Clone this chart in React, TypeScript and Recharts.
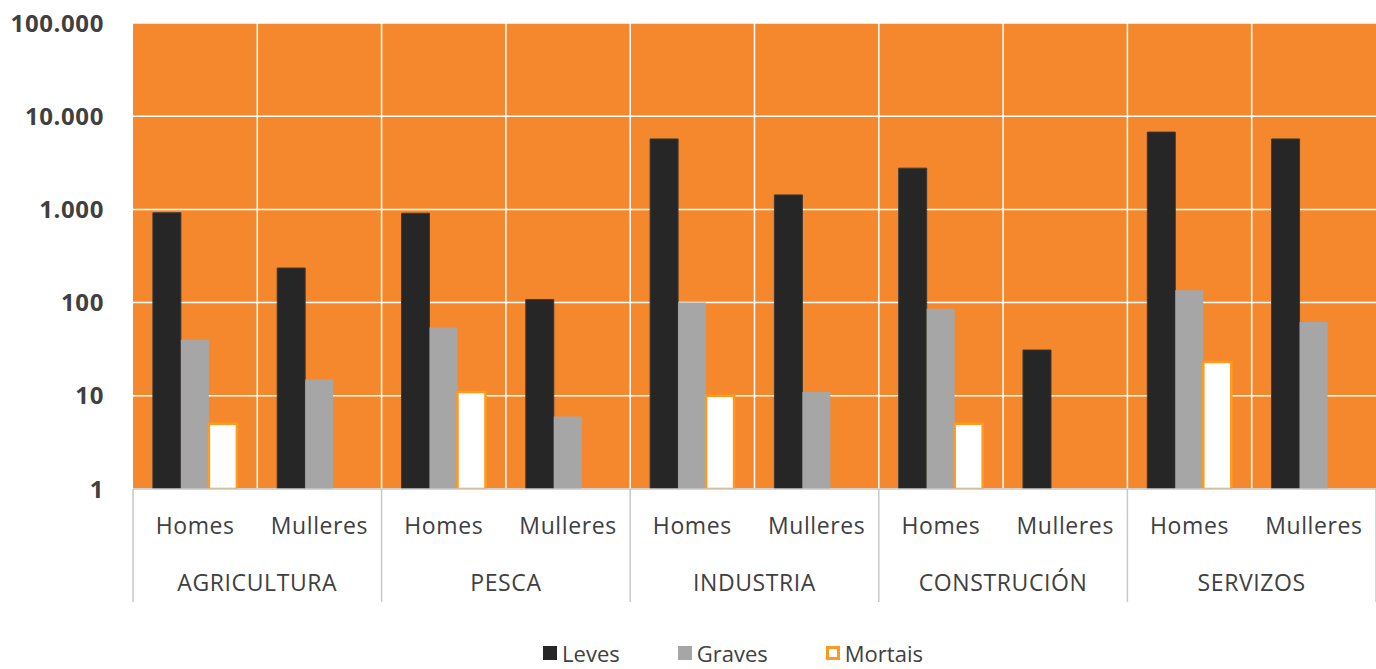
import React from 'react';
import { BarChart, Bar, XAxis, YAxis, CartesianGrid, Legend } from 'recharts';

const groups = ['AGRICULTURA', 'PESCA', 'INDUSTRIA', 'CONSTRUCIÓN', 'SERVIZOS'];
const sexes = ['Homes', 'Mulleres'];
const leves = [920, 235, 910, 108, 5700, 1430, 2770, 31, 6750, 5700];
const graves = [40, 15, 54, 6, 100, 11, 86, null, 136, 62];
const mortais = [5, null, 11, null, 10, null, 5, null, 23, null];
const yTicks = [1, 10, 100, 1000, 10000, 100000];

const data = groups.flatMap((g, gi) =>
  sexes.map((s, si) => {
    const i = gi * 2 + si;
    return { group: g, sex: s, leves: leves[i], graves: graves[i], mortais: mortais[i] };
  })
);

const W = 1376;
const H = 669;
const LEFT = 133;
const TOP = 23;
const X_AXIS_H = 140;
const LEGEND_H = 40;
const BAND = (W - LEFT) / data.length;

const ORANGE = '#F5882C';
const FONT = '"Open Sans", "Noto Sans", sans-serif';
const TEXT = '#404040';

const TwoLevelTick = (props: any) => {
  const { x, y, payload, index } = props;
  const top = y - 8;
  const idx = payload.index ?? index;
  const row = data[idx];
  return (
    <g>
      <text x={x} y={top + 45} textAnchor="middle" fill={TEXT} fontSize={23} letterSpacing={0.6} fontFamily={FONT}>
        {payload.value}
      </text>
      {row && row.sex === 'Homes' && (
        <>
          <text x={x + BAND / 2} y={top + 102} textAnchor="middle" fill={TEXT} fontSize={23} letterSpacing={0.6} fontFamily={FONT}>
            {row.group}
          </text>
          <line x1={x - BAND / 2} x2={x - BAND / 2} y1={top} y2={top + 113} stroke="#C8C8C8" strokeWidth={1.5} />
        </>
      )}
      {idx === data.length - 1 && (
        <line x1={x + BAND / 2} x2={x + BAND / 2} y1={top} y2={top + 113} stroke="#C8C8C8" strokeWidth={1.5} />
      )}
    </g>
  );
};

const LegendContent = () => {
  const items = [
    { label: 'Leves', fill: '#262626', stroke: 'none' },
    { label: 'Graves', fill: '#A6A6A6', stroke: 'none' },
    { label: 'Mortais', fill: '#FFFFFF', stroke: '#FF9A1F' },
  ];
  return (
    <div
      style={{
        display: 'flex',
        justifyContent: 'center',
        gap: 58,
        paddingTop: 12,
        paddingLeft: 90,
        fontFamily: FONT,
        fontSize: 22,
        lineHeight: '24px',
        color: TEXT,
      }}
    >
      {items.map((it) => (
        <div key={it.label} style={{ display: 'flex', alignItems: 'center', gap: 5 }}>
          <svg width={14} height={14}>
            <rect
              x={it.stroke === 'none' ? 0 : 1.5}
              y={it.stroke === 'none' ? 0 : 1.5}
              width={it.stroke === 'none' ? 14 : 11}
              height={it.stroke === 'none' ? 14 : 11}
              fill={it.fill}
              stroke={it.stroke}
              strokeWidth={3}
            />
          </svg>
          <span>{it.label}</span>
        </div>
      ))}
    </div>
  );
};

export default function App() {
  return (
    <div style={{ position: 'absolute', left: 0, top: 0, width: W, height: H, background: '#fff' }}>
      <BarChart
        width={W}
        height={H}
        data={data}
        margin={{ top: TOP, right: 0, left: 0, bottom: 0 }}
        barGap={0}
        barCategoryGap="16%"
      >
        <CartesianGrid
          fill={ORANGE}
          fillOpacity={1}
          stroke="#FFFFFF"
          strokeWidth={1.5}
          verticalCoordinatesGenerator={({ offset }: any) =>
            data.slice(1).map((_, i) => offset.left + ((i + 1) * offset.width) / data.length)
          }
        />
        <XAxis
          dataKey="sex"
          height={X_AXIS_H}
          interval={0}
          tickLine={false}
          axisLine={{ stroke: '#C8C8C8', strokeWidth: 1.5 }}
          tick={<TwoLevelTick />}
        />
        <YAxis
          scale="log"
          domain={[1, 100000]}
          ticks={yTicks}
          allowDataOverflow
          width={LEFT}
          axisLine={false}
          tickLine={false}
          tickMargin={23}
          tickFormatter={(v: number) => v.toLocaleString('de-DE')}
          tick={{ fill: TEXT, fontSize: 24, fontWeight: 700, letterSpacing: 0.6, fontFamily: FONT }}
        />
        <Legend verticalAlign="bottom" height={LEGEND_H} content={<LegendContent />} />
        <Bar dataKey="leves" name="Leves" fill="#262626" stroke="#3A3A3A" isAnimationActive={false} />
        <Bar dataKey="graves" name="Graves" fill="#A6A6A6" isAnimationActive={false} />
        <Bar dataKey="mortais" name="Mortais" fill="#FFFFFF" stroke="#FF9A1F" strokeWidth={2.5} isAnimationActive={false} />
      </BarChart>
    </div>
  );
}
